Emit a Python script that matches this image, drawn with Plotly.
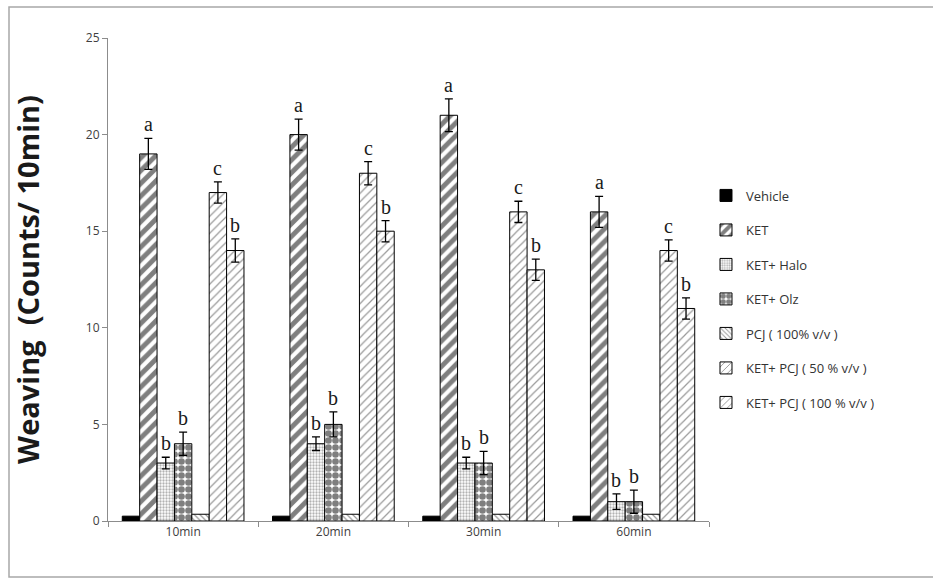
import plotly.graph_objects as go

# Time points after treatment
time_points = ["10min", "20min", "30min", "60min"]

# Treatment groups
groups = ["Vehicle", "KET", "KET+ Halo", "KET+ Olz", "PCJ ( 100% v/v )",
          "KET+ PCJ ( 50 % v/v )", "KET+ PCJ ( 100 % v/v )"]

# Mean weaving counts per group (10, 20, 30, 60 min)
vehicle = [0.25, 0.25, 0.25, 0.25]
ket = [19, 20, 21, 16]
ket_halo = [3, 4, 3, 1]
ket_olz = [4, 5, 3, 1]
pcj_100 = [0.35, 0.35, 0.35, 0.35]
ket_pcj_50 = [17, 18, 16, 14]
ket_pcj_100 = [14, 15, 13, 11]

# Standard errors (None = no error bar drawn)
vehicle_err = None
ket_err = [0.8, 0.8, 0.85, 0.8]
ket_halo_err = [0.3, 0.35, 0.3, 0.4]
ket_olz_err = [0.6, 0.65, 0.6, 0.6]
pcj_100_err = None
ket_pcj_50_err = [0.55, 0.6, 0.55, 0.55]
ket_pcj_100_err = [0.6, 0.55, 0.55, 0.55]

# Significance letters
ket_sig = ["a", "a", "a", "a"]
ket_halo_sig = ["b", "b", "b", "b"]
ket_olz_sig = ["b", "b", "b", "b"]
ket_pcj_50_sig = ["c", "c", "c", "c"]
ket_pcj_100_sig = ["b", "b", "b", "b"]

values = [vehicle, ket, ket_halo, ket_olz, pcj_100, ket_pcj_50, ket_pcj_100]
errors = [vehicle_err, ket_err, ket_halo_err, ket_olz_err, pcj_100_err,
          ket_pcj_50_err, ket_pcj_100_err]
letters = [None, ket_sig, ket_halo_sig, ket_olz_sig, None,
           ket_pcj_50_sig, ket_pcj_100_sig]

patterns = [
    dict(shape=""),
    dict(shape="/", fgcolor="black", bgcolor="white", size=9, solidity=0.55),
    dict(shape=".", fgcolor="#666", bgcolor="white", size=3, solidity=0.45),
    dict(shape=".", fgcolor="black", bgcolor="white", size=7, solidity=0.7),
    dict(shape="\\", fgcolor="#333", bgcolor="white", size=4, solidity=0.3),
    dict(shape="/", fgcolor="#333", bgcolor="white", size=6, solidity=0.2),
    dict(shape="/", fgcolor="#333", bgcolor="white", size=6, solidity=0.2),
]

BARGAP = 0.19
n_groups = len(groups)

fig = go.Figure()
for j, (name, vals, err, pat) in enumerate(zip(groups, values, errors, patterns)):
    marker = dict(color="black" if j == 0 else "white",
                  line=dict(color="black", width=1))
    if pat["shape"]:
        marker["pattern"] = pat
    fig.add_trace(go.Bar(
        name=name, x=time_points, y=vals, marker=marker,
        legendgroup=name,
        error_y=(dict(type="data", array=err, visible=True, color="black",
                      thickness=1.3, width=4) if err else dict(visible=False)),
    ))

# Significance letters above the error bars
annotations = []
slot = (1 - BARGAP) / n_groups
for j in range(n_groups):
    if letters[j] is None:
        continue
    for i in range(len(time_points)):
        xpos = i - (1 - BARGAP) / 2 + slot * (j + 0.5)
        ytop = values[j][i] + (errors[j][i] if errors[j] else 0)
        annotations.append(dict(
            x=xpos, y=ytop, xref="x", yref="y", text=letters[j][i],
            showarrow=False, yanchor="bottom", yshift=1,
            font=dict(family="Liberation Serif", size=20, color="#1a1a1a"),
        ))

fig.update_layout(
    width=933, height=584,
    margin=dict(l=108, r=224, t=38, b=63),
    paper_bgcolor="white", plot_bgcolor="white",
    barmode="group", bargap=BARGAP, bargroupgap=0,
    font=dict(family="Open Sans", color="#404040"),
    showlegend=True,
    legend=dict(x=0.995, y=0.705, xanchor="left", yanchor="top",
                font=dict(size=13, color="#333"), tracegroupgap=14.6,
                itemwidth=30),
    annotations=annotations,
    shapes=[dict(type="rect", xref="paper", yref="paper",
                 x0=(9 - 108) / 601, x1=1.8,
                 y0=-(577 - 521) / 483, y1=(521 - 7) / 483,
                 line=dict(color="#a8a8a8", width=1.5), layer="below")],
)

fig.update_xaxes(
    type="category", tickson="boundaries", ticks="outside", ticklen=5,
    tickcolor="#8c8c8c", showline=True, linecolor="#8c8c8c", linewidth=1,
    tickfont=dict(size=12, color="#404040"), showgrid=False,
)
fig.update_yaxes(
    range=[0, 25], dtick=5, ticks="outside", ticklen=5, tickcolor="#8c8c8c",
    showline=True, linecolor="#8c8c8c", linewidth=1, showgrid=False,
    zeroline=False, tickfont=dict(size=12, color="#404040"),
    title=dict(text="<b>Weaving  (Counts/ 10min)</b>", standoff=37,
               font=dict(family="Open Sans", size=29, color="#1a1a1a")),
)

fig.write_html("out.html")
